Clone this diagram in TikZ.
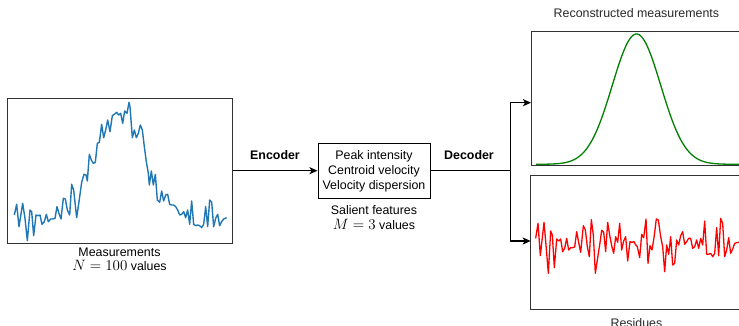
\RequirePackage{fix-cm}
\documentclass[tikz,border=0pt]{standalone}
\usepackage{fontspec}
\setmainfont{Liberation Sans}
\usetikzlibrary{arrows.meta}
\definecolor{mplblue}{RGB}{31,119,180}
\definecolor{mplgreen}{RGB}{0,128,0}
\definecolor{titlegrey}{RGB}{40,40,40}
\newcommand{\bigmath}[1]{{\fontsize{15}{15}\selectfont$#1$}}
\tikzset{
  lbl/.style={font=\fontsize{12.4}{15}\selectfont, inner sep=0pt, anchor=base},
  boldlbl/.style={lbl, font=\fontsize{12.4}{15}\selectfont\bfseries},
  plotbox/.style={draw=black!80, line width=1pt, inner sep=0pt, fill=white},
  featbox/.style={draw=black, line width=1pt, inner sep=0pt, minimum width=112pt, minimum height=55pt},
  conn/.style={line width=1.5pt, draw=black},
  arr/.style={conn, -{Stealth[length=8pt,width=7pt,inset=2pt]}},
  curve/.style={line width=1.4pt, line join=round},
}
\begin{document}
\begin{tikzpicture}[x=1pt,y=-1pt]
\clip (0,0) rectangle (739,326);
\fill[white] (0,0) rectangle (739,326);

% plot boxes
\node[plotbox, minimum width=225pt, minimum height=144pt] (meas) at (119.5,171) {};
\node[plotbox, minimum width=219pt, minimum height=134.3pt] (recon) at (640.5,98.85) {};
\node[plotbox, minimum width=219.3pt, minimum height=134pt] (resid) at (640.35,242) {};

% feature box
\node[featbox] (feat) at (374,170.7) {};
\node[lbl] (f1) at (374,159.3) {Peak intensity};
\node[lbl] (f2) at (374,174.3) {Centroid velocity};
\node[lbl] (f3) at (374,189.3) {Velocity dispersion};

% labels
\node[lbl] (m1) at (119.5,256) {Measurements};
\node[lbl] (m2) at (119.5,270.5) {\bigmath{N=100} values};
\node[lbl] (s1) at (374,214.3) {Salient features};
\node[lbl] (s2) at (374,229) {\bigmath{M=3} values};
\node[boldlbl] (enc) at (275,159.3) {Encoder};
\node[boldlbl] (dec) at (469,159.3) {Decoder};
\node[lbl, text=titlegrey] (rt) at (636.4,17.3) {Reconstructed measurements};
\node[lbl, text=titlegrey] (rs) at (636.4,327.3) {Residues};

% measured spectrum
\draw[curve, mplblue] plot coordinates {
(14.33,215) (16.67,204.33) (19,226.67) (22.67,203.33) (25,218.33) (27.33,240.67)
(30,210) (31.67,211.67) (33.67,235.67) (36,215) (38,215.67) (40,215) (42,224.33)
(44.33,221.67) (46.33,214.33) (48.33,221.67) (50.67,219) (52.67,219) (55,218.33)
(57,206.67) (59,213.33) (61,219) (63.33,198.33) (65.33,199) (67.33,210) (69.67,215)
(71.67,184.33) (73.67,190) (76.67,217.67) (79,201.67) (81.67,182.33) (84,174.33)
(86,175) (87.33,181) (89.33,154.33) (91.33,160) (93.33,163.33) (95.33,162.33)
(97.33,143.33) (99.33,142.33) (101.67,124.33) (103.67,137.67) (105.67,130)
(107.67,120) (110,131.67) (112.33,115.67) (114.33,114.33) (116.67,112.33)
(118.67,115) (120.67,113.33) (122.67,123.33) (124.67,111) (127,113.33)
(129,102.33) (130,106.67) (132.33,137.67) (134.33,130) (136.33,137.67)
(138.33,133.33) (140.33,125) (142.33,130) (144.33,146.67) (146.33,161.67)
(148.33,173.33) (149.33,185) (151.33,171) (153.33,185) (155.33,174.33)
(157.33,200) (159.67,202.33) (161.67,191) (163.67,201) (165.67,195)
(167.67,194.33) (169.67,204.33) (171.67,205) (173.67,205) (175.67,206.67)
(177.67,210) (179.67,215) (181.67,214.33) (183.67,211.67) (185.67,217.67)
(187.67,210) (189.67,224.33) (191.67,201) (193.67,224.33) (195.67,225.67)
(197.67,225) (199.67,225.67) (201.67,227.67) (203.67,224.33) (205.67,206.67)
(207.67,226.67) (209.67,200) (211.67,202.33) (213.67,226.67) (215.67,218.33)
(217.67,214.33) (219.67,225.67) (221.67,221.67) (223.67,219) (226.67,217.67)};

% reconstructed spectrum
\draw[curve, mplgreen, line width=1.3pt] plot[domain=536:745, samples=180]
  (\x, {164.3 - 130.3*exp(-((\x-636.5)*(\x-636.5))/(2*24.2*24.2))});

% residues
\draw[curve, red, line width=1.3pt] plot coordinates {
(535.67,238.33) (538,223.33) (540.33,255.67) (544,222.33) (546,245) (548.33,273.33)
(550.67,231) (552.33,235) (554.33,267.67) (556.67,239) (558.67,241) (560.67,239)
(562.67,251.67) (564.67,248.33) (566.67,238.33) (568.67,250) (570.67,247.67)
(572.67,247.67) (574.67,247) (576.67,231.67) (578.67,242.33) (580.67,252.33)
(583.33,225.67) (585.33,230) (587.33,246.67) (589.33,256.67) (591.33,219.67)
(593.33,235) (595.33,273.33) (597.33,260) (599.67,245) (601.67,230.33)
(603.67,232.33) (605.67,251.67) (607.67,222.33) (609.67,235) (611.67,245.67)
(613.67,253.33) (615.67,236.67) (617.67,242.33) (619.67,223.33) (621.67,250)
(623.67,241) (625.67,236.67) (627.67,261) (630,241.67) (632,242.33) (634,241.67)
(635.33,244.33) (637.33,246.67) (639.67,257.67) (641.67,234.33) (643.67,237.67)
(646,219) (648,263.33) (650,245.67) (652,250) (654,237.67) (656.33,219) (658.33,220)
(660.67,236.67) (662.67,246.67) (664.67,271.67) (666.67,245) (668.67,254.33)
(670.67,236.67) (672.67,265) (674.67,263.33) (676.67,240) (678.67,245)
(680.67,235.67) (682.67,231.67) (684.67,244.33) (686.67,241.67) (688.67,238.33)
(690.67,238.33) (692.67,248.33) (694.67,246.67) (696.67,240) (698.67,248.33)
(700.67,238.33) (702.67,245) (704.67,221) (706.67,254.33) (708.67,254.33)
(710.67,253.33) (712.67,256.67) (714.67,253.33) (716.67,227.67) (718.67,255.67)
(720.67,218.33) (722.67,223.33) (724.67,256.67) (726.67,250) (728.67,237.67)
(730.67,253.33) (732.67,249) (734.67,243.33) (738,242.33) (742,242)};

% connectors
\coordinate (split) at (510.5,170.7);
\coordinate (rtop) at (531,102.7);
\coordinate (rbot) at (530.7,241);
\draw[arr] (meas.east |- feat.west) -- (feat.west);
\draw[conn] (feat.east) -- (split);
\draw[arr] (split) |- (rtop);
\draw[arr] (split) |- (rbot);
\end{tikzpicture}
\end{document}
